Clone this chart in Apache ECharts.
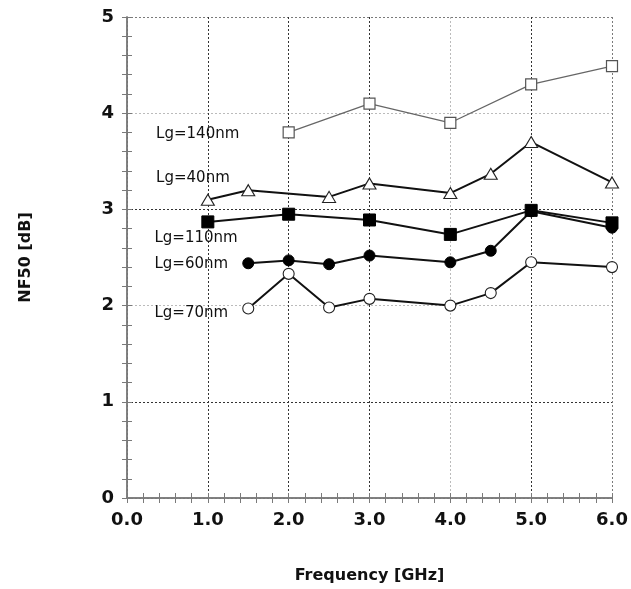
<!DOCTYPE html>
<html>
<head>
<meta charset="utf-8">
<script src="https://cdn.jsdelivr.net/npm/echarts@6/dist/echarts.min.js"></script>
<style>
html, body { margin: 0; padding: 0; background: #fff; }
#nfchart { width: 631px; height: 589px; }
</style>
</head>
<body>
<div id="nfchart"></div>
<script>
// frequency ticks (GHz) and NF50 (dB)
var xTicks = [0, 1, 2, 3, 4, 5, 6];
var yTicks = [0, 1, 2, 3, 4, 5];

var freq140 = [2.0, 3.0, 4.0, 5.0, 6.0];
var nf140 = [3.80, 4.10, 3.90, 4.30, 4.49];

var freq40 = [1.0, 1.5, 2.5, 3.0, 4.0, 4.5, 5.0, 6.0];
var nf40 = [3.10, 3.20, 3.13, 3.27, 3.17, 3.37, 3.70, 3.28];

var freq110 = [1.0, 2.0, 3.0, 4.0, 5.0, 6.0];
var nf110 = [2.87, 2.95, 2.89, 2.74, 2.99, 2.86];

var freq60 = [1.5, 2.0, 2.5, 3.0, 4.0, 4.5, 5.0, 6.0];
var nf60 = [2.44, 2.47, 2.43, 2.52, 2.45, 2.57, 2.98, 2.81];

var freq70 = [1.5, 2.0, 2.5, 3.0, 4.0, 4.5, 5.0, 6.0];
var nf70 = [1.97, 2.33, 1.98, 2.07, 2.00, 2.13, 2.45, 2.40];

// curve names and where their text sits (data coords)
var curveNames = ['Lg=140nm', 'Lg=40nm', 'Lg=110nm', 'Lg=60nm', 'Lg=70nm'];
var labelX = [0.36, 0.36, 0.34, 0.34, 0.34];
var labelY = [3.78, 3.33, 2.70, 2.43, 1.92];

function pairs(xs, ys) {
  var out = [];
  for (var i = 0; i < xs.length; i++) {
    out.push([xs[i], ys[i]]);
  }
  return out;
}

function nameMark(i) {
  return {
    symbol: 'circle',
    symbolSize: 0,
    silent: true,
    label: {
      show: true,
      position: 'right',
      distance: 0,
      color: '#111',
      fontFamily: 'DejaVu Sans',
      fontSize: 15,
      formatter: curveNames[i]
    },
    data: [{ coord: [labelX[i], labelY[i]] }]
  };
}

var dark = '#333';
var light = '#bbb';
var frame = '#7a7a7a';

var myChart = echarts.init(document.getElementById('nfchart'), null, { renderer: 'canvas' });

var option = {
  backgroundColor: '#fff',
  animation: false,
  grid: {
    left: 127,
    right: 19,
    top: 17,
    bottom: 89
  },
  xAxis: [{
    type: 'value',
    min: 0,
    max: 6,
    interval: 1,
    name: 'Frequency [GHz]',
    nameLocation: 'middle',
    nameGap: 70,
    nameTextStyle: { fontFamily: 'DejaVu Sans', fontWeight: 'bold', fontSize: 16, color: '#111' },
    axisLine: { show: true, onZero: false, lineStyle: { color: frame, width: 1.5 } },
    axisTick: { show: true, inside: true, length: 5, lineStyle: { color: frame } },
    minorTick: { show: true, splitNumber: 5, length: 5, lineStyle: { color: frame } },
    axisLabel: {
      margin: 13,
      fontFamily: 'DejaVu Sans',
      fontWeight: 'bold',
      fontSize: 18,
      color: '#111',
      formatter: function (v) { return v.toFixed(1); }
    },
    splitLine: {
      show: true,
      lineStyle: { type: [2, 2], width: 1, color: [dark, dark, dark, dark, light, dark, frame] }
    }
  }, {
    type: 'value',
    position: 'top',
    min: 0,
    max: 6,
    interval: 1,
    axisLine: { show: true, lineStyle: { color: frame, width: 1.5 } },
    axisTick: { show: true, inside: true, length: 5, lineStyle: { color: frame } },
    minorTick: { show: true, splitNumber: 5, length: 5, lineStyle: { color: frame } },
    axisLabel: { show: false },
    splitLine: { show: false }
  }],
  yAxis: [{
    type: 'value',
    min: 0,
    max: 5,
    interval: 1,
    name: 'NF50 [dB]',
    nameLocation: 'middle',
    nameGap: 93,
    nameRotate: 90,
    nameTextStyle: { fontFamily: 'DejaVu Sans', fontWeight: 'bold', fontSize: 16, color: '#111' },
    axisLine: { show: true, onZero: false, lineStyle: { color: frame, width: 1.5 } },
    axisTick: { show: true, inside: true, length: 5, lineStyle: { color: frame } },
    minorTick: { show: true, splitNumber: 5, length: 5, lineStyle: { color: frame } },
    axisLabel: {
      margin: 13,
      fontFamily: 'DejaVu Sans',
      fontWeight: 'bold',
      fontSize: 18,
      color: '#111',
      formatter: function (v) {
        return yTicks.indexOf(v) >= 0 ? String(v) : '';
      }
    },
    splitLine: {
      show: true,
      lineStyle: { type: [2, 2], width: 1, color: [frame, dark, light, dark, light, frame] }
    }
  }, {
    type: 'value',
    position: 'right',
    min: 0,
    max: 5,
    interval: 1,
    axisLine: { show: true, lineStyle: { color: frame, width: 1.5 } },
    axisTick: { show: true, inside: true, length: 5, lineStyle: { color: frame } },
    minorTick: { show: true, splitNumber: 5, length: 5, lineStyle: { color: frame } },
    axisLabel: { show: false },
    splitLine: { show: false }
  }],
  series: [{
    name: curveNames[0],
    type: 'line',
    data: pairs(freq140, nf140),
    symbol: 'rect',
    symbolSize: 11,
    itemStyle: { color: '#fff', borderColor: '#555', borderWidth: 1.2 },
    lineStyle: { color: '#666', width: 1.2 },
    markPoint: nameMark(0)
  }, {
    name: curveNames[1],
    type: 'line',
    data: pairs(freq40, nf40),
    symbol: 'triangle',
    symbolSize: [13, 11],
    itemStyle: { color: '#fff', borderColor: '#222', borderWidth: 1.1 },
    lineStyle: { color: '#111', width: 2 },
    markPoint: nameMark(1)
  }, {
    name: curveNames[2],
    type: 'line',
    data: pairs(freq110, nf110),
    symbol: 'rect',
    symbolSize: 12,
    itemStyle: { color: '#000', borderColor: '#000', borderWidth: 1 },
    lineStyle: { color: '#111', width: 2 },
    markPoint: nameMark(2)
  }, {
    name: curveNames[3],
    type: 'line',
    data: pairs(freq60, nf60),
    symbol: 'circle',
    symbolSize: 11,
    itemStyle: { color: '#000', borderColor: '#000', borderWidth: 1 },
    lineStyle: { color: '#111', width: 2 },
    markPoint: nameMark(3)
  }, {
    name: curveNames[4],
    type: 'line',
    data: pairs(freq70, nf70),
    symbol: 'circle',
    symbolSize: 11,
    itemStyle: { color: '#fff', borderColor: '#222', borderWidth: 1.1 },
    lineStyle: { color: '#111', width: 2 },
    markPoint: nameMark(4)
  }]
};

myChart.setOption(option);
window.onresize = myChart.resize;
</script>
</body>
</html>
